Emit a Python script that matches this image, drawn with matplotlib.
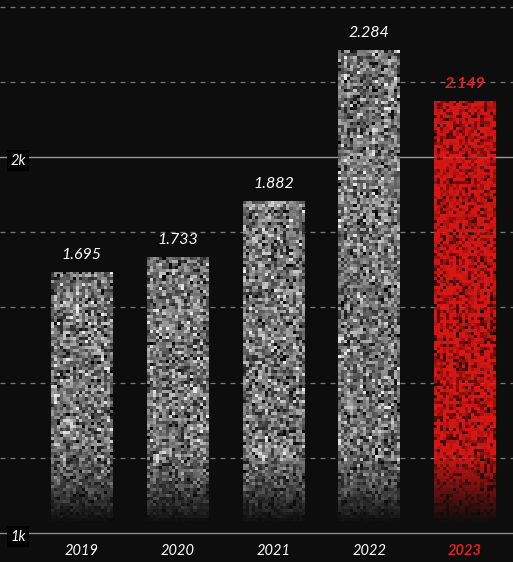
#!/usr/bin/env python3
import matplotlib
matplotlib.use("Agg")
import matplotlib.pyplot as plt
import matplotlib.transforms as mtrans
import numpy as np

# data (values in units, shown as thousands with a dot)
years = ["2019", "2020", "2021", "2022", "2023"]
values = [1695, 1733, 1882, 2284, 2149]
value_labels = ["1.695", "1.733", "1.882", "2.284", "2.149"]
highlight = "2023"

bg = "#0d0d0d"
red = "#e0231f"
font = "Lato"

fig = plt.figure(figsize=(5.13, 5.62), dpi=100, facecolor=bg)
ax = fig.add_axes([0, 0, 1, 1])
ax.set_facecolor(bg)
ax.set_xlim(-0.85, 4.5)
ax.set_ylim(923, 2417.5)
for s in ax.spines.values():
    s.set_visible(False)
ax.set_xticks([])
ax.set_yticks([])

# gridlines
for g in [1200, 1400, 1600, 1800, 2200, 2400]:
    ax.axhline(g, color="#6a6a6a", lw=0.9, dashes=(4, 4), zorder=1)
    ax.axhline(g, color="#bbbbbb", lw=0.9, dashes=(4, 4), alpha=0.15, zorder=4)
for g in [1000, 2000]:
    ax.axhline(g, color="#8c8c8c", lw=1.0, zorder=1)
ax.axhline(2000, color="#bbbbbb", lw=1.0, alpha=0.2, zorder=4)

rng = np.random.default_rng(7)
width = 0.64
x = np.arange(len(years))
bars = ax.bar(x, [v - 1000 for v in values], width=width, bottom=1000,
              facecolor="none", edgecolor="none", zorder=2)

for xi, v, yr, bar in zip(x, values, years, bars):
    nrows = int((v - 1000) * 0.376 / 3)
    ncols = 20
    yy = np.linspace(1000, v, nrows)[:, None]
    alpha = np.clip((yy - 1025) / 180, 0, 1) * np.ones((1, ncols))
    rgba = np.zeros((nrows, ncols, 4))
    if yr == highlight:
        u = rng.uniform(0, 1, size=(nrows, ncols))
        r = 0.85 - 0.7 * u ** 3
        rgba[..., 0] = r
        rgba[..., 1] = 0.11 * r
        rgba[..., 2] = 0.1 * r
    else:
        n = np.clip(rng.normal(0.45, 0.2, size=(nrows, ncols)), 0.03, 0.92)
        rgba[..., 0] = n
        rgba[..., 1] = n
        rgba[..., 2] = n
    rgba[..., 3] = alpha
    im = ax.imshow(rgba, extent=[xi - width / 2, xi + width / 2, 1000, v],
                   origin="lower", aspect="auto", interpolation="nearest", zorder=3)
    im.set_clip_path(bar)

# value labels
for xi, v, lab, yr in zip(x, values, value_labels, years):
    hl = yr == highlight
    ax.text(xi, v + 45, lab, ha="center", va="center", fontsize=11.5,
            family=font, style="italic", fontweight="bold" if hl else "normal",
            color=red if hl else "white", zorder=5)

# year labels
for xi, yr in zip(x, years):
    hl = yr == highlight
    ax.text(xi, 952, yr, ha="center", va="center", fontsize=10.5,
            family=font, style="italic", fontweight="bold" if hl else "normal",
            color=red if hl else "white", zorder=5)

# y tick labels
trans = mtrans.blended_transform_factory(ax.transAxes, ax.transData)
for g, lab in [(1000, "1k"), (2000, "2k")]:
    ax.text(0.02, g - 10, lab, transform=trans, ha="left", va="center",
            fontsize=10.5, family=font, style="italic", color="white", zorder=6,
            bbox=dict(facecolor="black", edgecolor="none", pad=2.5))

fig.savefig("out.png", dpi=100, facecolor=bg)
